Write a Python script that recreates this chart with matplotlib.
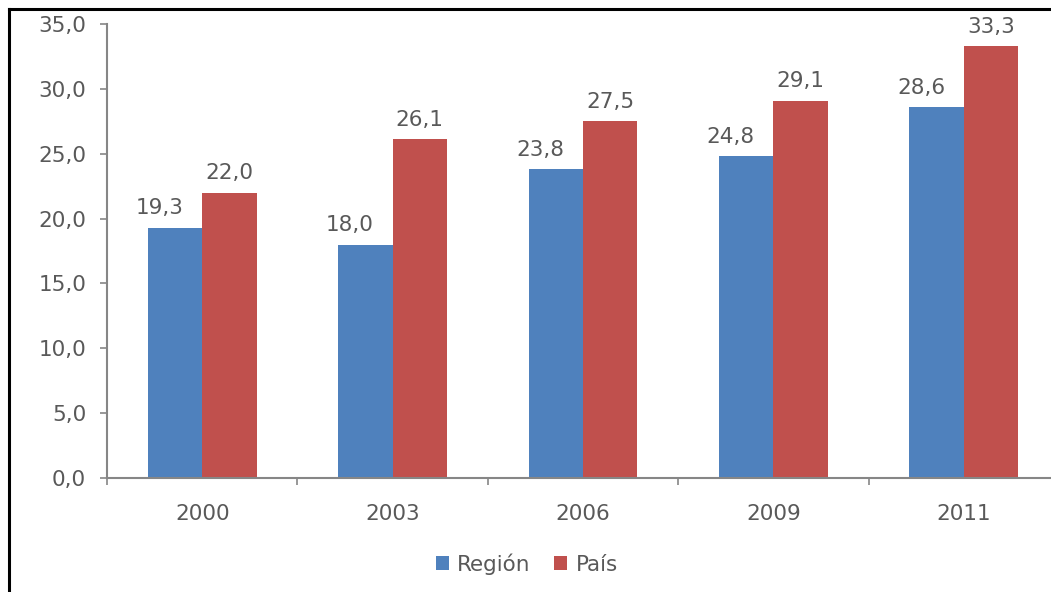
import matplotlib
matplotlib.use("Agg")
import matplotlib.pyplot as plt
import numpy as np
from matplotlib.lines import Line2D

years = ["2000", "2003", "2006", "2009", "2011"]
region = [19.3, 18.0, 23.8, 24.8, 28.6]
pais = [22.0, 26.1, 27.5, 29.1, 33.3]
series_names = ["Región", "País"]

BLUE = "#4F81BD"
RED = "#C0504D"
TXT = "#595959"
AX = "#868686"

plt.rcParams['font.family'] = ['DejaVu Sans']

fig = plt.figure(figsize=(10.51, 5.92), dpi=100)
ax = fig.add_axes([107/1051, 1-478/592, 952/1051, (478-24)/592])

x = np.arange(len(years))
w = 0.286
b1 = ax.bar(x - w/2, region, w, color=BLUE, label=series_names[0], zorder=2)
b2 = ax.bar(x + w/2, pais, w, color=RED, label=series_names[1], zorder=2)

fs = 15.5
for rect, v in zip(b1, region):
    ax.annotate(f"{v:.1f}".replace(".", ","), (rect.get_x() + rect.get_width()/2, v),
                xytext=(-11, 9.5), textcoords="offset points", ha="center", va="baseline",
                fontsize=fs, color=TXT)
for rect, v in zip(b2, pais):
    ax.annotate(f"{v:.1f}".replace(".", ","), (rect.get_x() + rect.get_width()/2, v),
                xytext=(0, 9.5), textcoords="offset points", ha="center", va="baseline",
                fontsize=fs, color=TXT)

ax.set_xlim(-0.5, len(years) - 0.5)
ax.set_ylim(0, 35)
ax.set_yticks(np.arange(0, 35.1, 5))
ax.set_yticklabels([f"{t:.1f}".replace(".", ",") for t in np.arange(0, 35.1, 5)])
ax.set_xticks(x)
ax.set_xticklabels(years)
ax.set_xticks(np.arange(-0.5, len(years), 1), minor=True)
ax.tick_params(axis="x", which="major", length=0, pad=19, labelsize=fs, labelcolor=TXT)
ax.tick_params(axis="x", which="minor", length=5, color=AX, width=1.2)
ax.tick_params(axis="y", length=5, color=AX, width=1.2, pad=10, labelsize=fs, labelcolor=TXT)

for s in ["top", "right"]:
    ax.spines[s].set_visible(False)
for s in ["left", "bottom"]:
    ax.spines[s].set_color(AX)
    ax.spines[s].set_linewidth(1.5)

leg = fig.legend(handles=[b1, b2], loc="center", bbox_to_anchor=(527/1051, 1-564/592),
                 ncol=2, frameon=False, fontsize=fs, handlelength=0.6, handleheight=0.6,
                 handletextpad=0.4, columnspacing=1.1, labelcolor=TXT)

# outer chart border (left and top edges visible)
fig.add_artist(Line2D([8.5/1051, 8.5/1051], [0, 1-8.5/592], color="black", lw=2.2,
                      transform=fig.transFigure))
fig.add_artist(Line2D([8.5/1051, 1], [1-8.5/592, 1-8.5/592], color="black", lw=2.2,
                      transform=fig.transFigure))

fig.savefig("out.png", dpi=100)
